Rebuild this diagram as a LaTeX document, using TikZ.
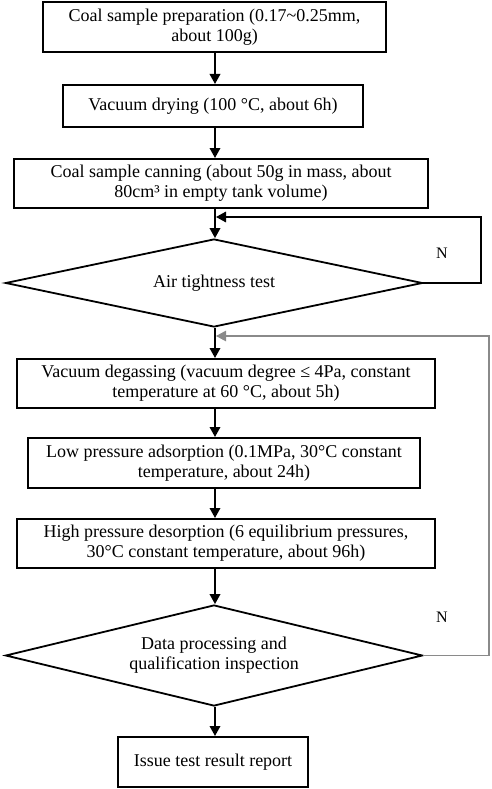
\documentclass[tikz,border=0pt]{standalone}
\usepackage{fontspec}
\setmainfont{Liberation Serif}
\usetikzlibrary{shapes.geometric,arrows.meta}

\begin{document}
\begin{tikzpicture}[x=1pt, y=-1pt,
    stepbox/.style={draw=black, line width=2pt, inner sep=0pt, align=center,
        font=\fontsize{18}{20}\selectfont},
    testbox/.style={draw=black, line width=1.8pt, shape=diamond, inner sep=0pt,
        aspect=4.5, align=center, font=\fontsize{18}{20}\selectfont},
    arrow/.style={line width=1.8pt, -{Triangle[length=10pt,width=10.5pt]}},
    backline/.style={draw=loopGrey, line width=1.1pt, -{Triangle[length=10pt,width=10.5pt]}},
    label/.style={font=\fontsize{16}{18}\selectfont}]
    % Define colours
    \definecolor{loopGrey}{HTML}{8A8A8A}

    % Fix page size
    \useasboundingbox (0,0) rectangle (491,789);

    % Main axis of the flow
    \coordinate (axis) at (215,0);

    % Draw steps
    \node[stepbox, minimum width=343pt, minimum height=50pt] (prep) at (214.5,27)
        {Coal sample preparation (0.17\char`\~0.25mm,\\about 100g)};
    \node[stepbox, minimum width=300pt, minimum height=42pt] (dry) at (213,106)
        {Vacuum drying (100 °C, about 6h)};
    \node[stepbox, minimum width=414pt, minimum height=49pt] (can) at (221,183.5)
        {Coal sample canning (about 50g in mass, about\\80cm³ in empty tank volume)};
    \node[testbox, minimum width=417pt, minimum height=88pt] (tight) at (214,283)
        {Air tightness test};
    \node[stepbox, minimum width=418pt, minimum height=49pt] (degas) at (226,383.5)
        {Vacuum degassing (vacuum degree ≤ 4Pa, constant\\temperature at 60 °C, about 5h)};
    \node[stepbox, minimum width=392pt, minimum height=50pt] (adsorb) at (224,463)
        {Low pressure adsorption (0.1MPa, 30°C constant\\temperature, about 24h)};
    \node[stepbox, minimum width=418pt, minimum height=49pt] (desorb) at (226,543.5)
        {High pressure desorption (6 equilibrium pressures,\\30°C constant temperature, about 96h)};
    \node[testbox, minimum width=417pt, minimum height=101pt] (check) at (214,655.5)
        {Data processing and\\qualification inspection};
    \node[stepbox, minimum width=190pt, minimum height=50pt] (report) at (213,762)
        {Issue test result report};

    % Draw arrows
    \draw[arrow] (prep.south -| axis) -- (dry.north -| axis);
    \draw[arrow] (dry.south -| axis) -- (can.north -| axis);
    \draw[arrow] (can.south -| axis) -- (tight.north -| axis);
    \draw[arrow] (tight.south -| axis) -- (degas.north -| axis);
    \draw[arrow] (degas.south -| axis) -- (adsorb.north -| axis);
    \draw[arrow] (adsorb.south -| axis) -- (desorb.north -| axis);
    \draw[arrow] (desorb.south -| axis) -- (check.north -| axis);
    \draw[arrow] (check.south -| axis) -- (report.north -| axis);

    % Draw loops back
    \coordinate (retest) at (216,217);
    \coordinate (redo) at (216,336);
    \draw[arrow, line width=1.6pt] (tight.east) -- (481,283) |- (retest);
    \draw[backline] (check.east) -- (489,655.5) |- (redo);
    \node[label] (no1) at (442,253) {N};
    \node[label] (no2) at (442,617) {N};

\end{tikzpicture}
\end{document}
